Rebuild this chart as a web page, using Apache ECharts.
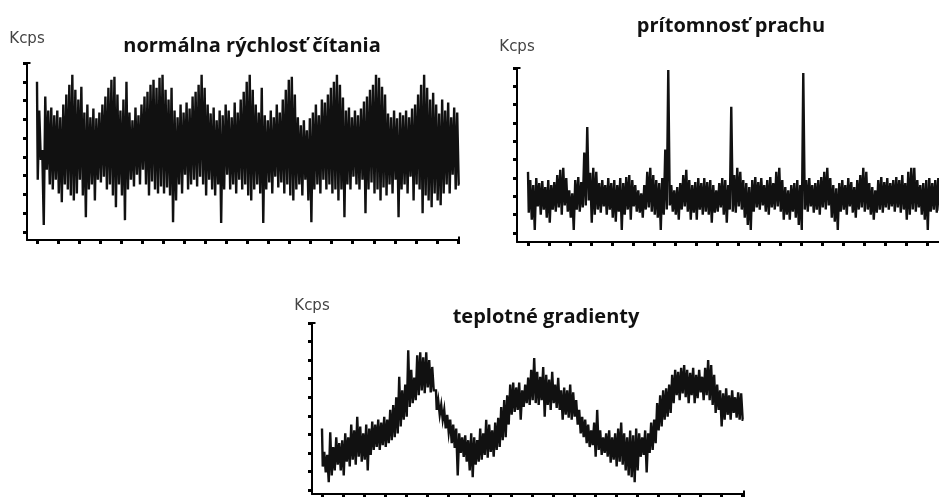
<!DOCTYPE html>
<html>
<head>
<meta charset="utf-8">
<script src="https://cdn.jsdelivr.net/npm/echarts@6/dist/echarts.min.js"></script>
<style>
  html, body { margin: 0; padding: 0; background: #ffffff; }
  #chart { width: 939px; height: 497px; }
</style>
</head>
<body>
<div id="chart"></div>
<script>
// Panel titles and the shared axis name
const panelTitles = ['normálna rýchlosť čítania', 'prítomnosť prachu', 'teplotné gradienty'];
const axisName = 'Kcps';

// Time between samples (10 time units between x ticks, 7 samples per tick)
const sampleStep = 10 / 7;

// Tick positions along each axis
const p1XTicks = [0,10,20,30,40,50,60,70,80,90,100,110,120,130,140,150,160,170,180,190,200];
const p1YTicks = [0,19,38,57,76,95,114,133,152,171];
const p2XTicks = [0,10,20,30,40,50,60,70,80,90,100,110,120,130,140,150,160,170,180,190];
const p2YTicks = [0,18,36,54,72,90,108,126,144,162];
const p3XTicks = [0,10,20,30,40,50,60,70,80,90,100,110,120,130,140,150,160,170,180,190,200];
const p3YTicks = [0,19,38,57,76,95,114,133,152,171];

// Normal read speed: upper and lower extent of the count rate in each sample window
const p1Hi = [
  152,123,83,137,123,126,118,123,116,129,
  139,149,159,144,134,147,121,129,116,125,
  115,121,129,137,146,154,157,139,123,134,
  152,121,113,126,118,129,137,142,149,154,
  146,156,159,144,134,146,123,116,129,121,
  131,125,137,142,149,159,146,129,120,126,
  113,123,118,129,123,116,131,121,134,142,
  152,159,144,129,121,146,118,113,123,116,
  129,121,134,144,154,157,139,116,108,113,
  103,115,121,129,118,134,131,139,146,152,
  159,149,136,123,126,116,123,118,125,132,
  137,144,149,159,156,147,139,120,116,123,
  115,121,118,123,116,125,129,139,149,159,
  146,134,141,129,120,134,123,131,116,126,
  121
];
const p1Lo = [
  53,73,7,63,48,43,53,39,30,48,
  43,37,32,39,53,37,15,43,48,32,
  53,50,56,43,48,37,25,48,37,12,
  43,53,46,58,48,63,48,37,51,43,
  39,46,39,45,37,10,32,48,39,58,
  43,48,53,46,56,48,37,53,43,37,
  48,9,43,58,43,48,39,53,43,48,
  37,32,43,48,39,9,43,50,39,56,
  45,50,39,48,37,32,43,48,37,53,
  32,10,43,48,39,53,43,48,39,43,
  32,43,15,48,43,56,48,43,53,19,
  43,50,39,43,32,45,37,48,39,53,
  15,43,48,39,56,32,48,43,19,37,
  32,25,39,32,27,39,48,39,58,43,
  48
];

// Dust present: low noisy band with isolated spikes
const p2Hi = [
  60,52,47,54,49,51,45,52,47,50,
  57,62,64,54,42,39,52,55,50,79,
  104,59,64,60,49,52,47,54,49,52,
  47,54,49,55,57,52,47,42,39,47,
  60,64,57,52,49,54,82,160,47,42,
  45,49,57,62,52,47,50,54,49,54,
  50,52,47,42,49,54,52,47,124,57,
  64,60,52,49,45,52,55,50,54,47,
  52,55,49,60,64,52,45,42,47,49,
  52,47,157,52,54,47,49,52,55,60,
  64,54,47,44,49,52,47,54,50,45,
  52,57,64,60,49,45,42,52,55,50,
  54,49,52,55,52,57,49,60,64,64,
  52,47,49,52,54,49,52,54
];
const p2Lo = [
  20,13,3,26,18,23,15,10,23,21,
  25,18,27,21,15,3,23,21,25,27,
  32,10,18,23,20,26,18,23,15,11,
  21,3,18,23,13,26,21,20,15,23,
  25,21,18,15,3,18,23,27,21,18,
  13,23,26,21,13,20,13,23,18,21,
  18,10,20,21,25,18,10,23,21,20,
  26,23,15,8,3,21,25,23,27,21,
  18,25,23,26,21,13,18,13,21,15,
  8,3,23,21,26,20,23,18,25,23,
  27,15,11,3,21,23,18,26,20,15,
  23,25,21,23,18,13,20,23,20,25,
  23,26,21,25,20,23,13,18,23,21,
  25,18,13,3,21,23,20,23
];

// Temperature gradients: slow drift with noise on top
const p3Hi = [
  63,39,36,59,44,54,48,51,58,54,
  67,61,75,65,58,67,63,70,67,72,
  69,75,72,82,87,95,116,102,108,143,
  123,115,138,141,136,141,133,126,102,92,
  87,82,77,72,67,63,58,54,56,51,
  58,54,51,63,58,72,67,61,69,74,
  85,92,97,108,110,105,110,102,108,115,
  123,135,121,116,126,118,113,121,108,115,
  102,105,102,108,100,92,82,75,72,67,
  61,69,82,61,54,58,61,54,58,63,
  69,58,54,61,56,63,58,54,61,58,
  69,72,89,97,102,104,108,118,123,121,
  125,128,123,120,125,118,123,116,125,133,
  128,118,108,102,99,104,97,102,95,100,
  99
];
const p3Lo = [
  24,18,8,15,20,26,20,15,29,24,
  31,26,34,29,31,20,36,41,44,41,
  46,44,48,51,54,58,65,72,75,85,
  89,92,97,102,99,105,100,102,82,77,
  72,63,59,48,43,15,38,34,29,20,
  13,26,29,31,36,33,39,34,41,44,
  51,54,67,77,80,82,72,85,89,87,
  92,89,87,92,75,87,82,89,84,82,
  72,77,74,72,75,67,58,54,48,44,
  46,34,41,36,38,34,28,31,24,29,
  26,20,15,13,8,20,34,36,18,38,
  41,48,61,65,72,75,79,89,97,92,
  99,95,89,97,89,94,100,92,97,92,
  87,79,82,65,72,77,72,79,74,72,
  72
];

// Turn the per-window extremes into one continuous trace
function trace(hi, lo) {
  const pts = [];
  for (let i = 0; i < hi.length; i++) {
    const t = i * sampleStep;
    pts.push([t, hi[i]]);
    pts.push([t + sampleStep / 2, lo[i]]);
  }
  return pts;
}

const ink = '#111111';

function xAxisOf(gridIndex, min, max, ticks, capped) {
  return {
    type: 'value', gridIndex, min, max,
    axisLine: {
      onZero: false,
      lineStyle: { color: '#000', width: 2 },
      symbol: capped ? ['none', 'rect'] : ['none', 'none'],
      symbolSize: [7, 2]
    },
    axisTick: { show: true, customValues: ticks, length: 4, lineStyle: { color: '#000', width: 3 } },
    axisLabel: { show: false },
    splitLine: { show: false }
  };
}

function yAxisOf(gridIndex, min, max, ticks, gap) {
  return {
    type: 'value', gridIndex, min, max,
    name: axisName, nameLocation: 'end', nameGap: gap,
    nameTextStyle: { fontFamily: 'DejaVu Sans', fontSize: 15, color: '#444', align: 'center', verticalAlign: 'middle' },
    axisLine: {
      onZero: false,
      lineStyle: { color: '#000', width: 2 },
      symbol: ['none', 'rect'],
      symbolSize: [7, 2]
    },
    axisTick: { show: true, customValues: ticks, length: 4, lineStyle: { color: '#000', width: 3 } },
    axisLabel: { show: false },
    splitLine: { show: false }
  };
}

function seriesOf(idx, hi, lo) {
  return {
    type: 'line', xAxisIndex: idx, yAxisIndex: idx,
    data: trace(hi, lo),
    step: 'middle',
    showSymbol: false, symbol: 'none', smooth: false,
    lineStyle: { color: ink, width: 2.4, join: 'miter', cap: 'butt' },
    clip: false, silent: true
  };
}

function titleOf(text, left, top) {
  return {
    text, left, top, textAlign: 'center', padding: 0,
    textStyle: { fontFamily: 'Open Sans', fontWeight: 'bold', fontSize: 20, color: '#111' }
  };
}

const chart = echarts.init(document.getElementById('chart'), null, { renderer: 'canvas' });
chart.setOption({
  animation: false,
  backgroundColor: '#ffffff',
  title: [
    titleOf(panelTitles[0], 252, 36),
    titleOf(panelTitles[1], 731, 16),
    titleOf(panelTitles[2], 546, 307)
  ],
  grid: [
    { left: 27, top: 63, width: 432, height: 177 },
    { left: 517, top: 68, width: 422, height: 174 },
    { left: 312, top: 323, width: 432, height: 171 }
  ],
  xAxis: [
    xAxisOf(0, -4.75, 200.5, p1XTicks, true),
    xAxisOf(1, -5.24, 195.7, p2XTicks, false),
    xAxisOf(2, -4.76, 201, p3XTicks, true)
  ],
  yAxis: [
    yAxisOf(0, -8.1, 171, p1YTicks, 24),
    yAxisOf(1, -8.84, 162, p2YTicks, 21),
    yAxisOf(2, -4.1, 171, p3YTicks, 17)
  ],
  series: [
    seriesOf(0, p1Hi, p1Lo),
    seriesOf(1, p2Hi, p2Lo),
    seriesOf(2, p3Hi, p3Lo)
  ]
});
</script>
</body>
</html>
